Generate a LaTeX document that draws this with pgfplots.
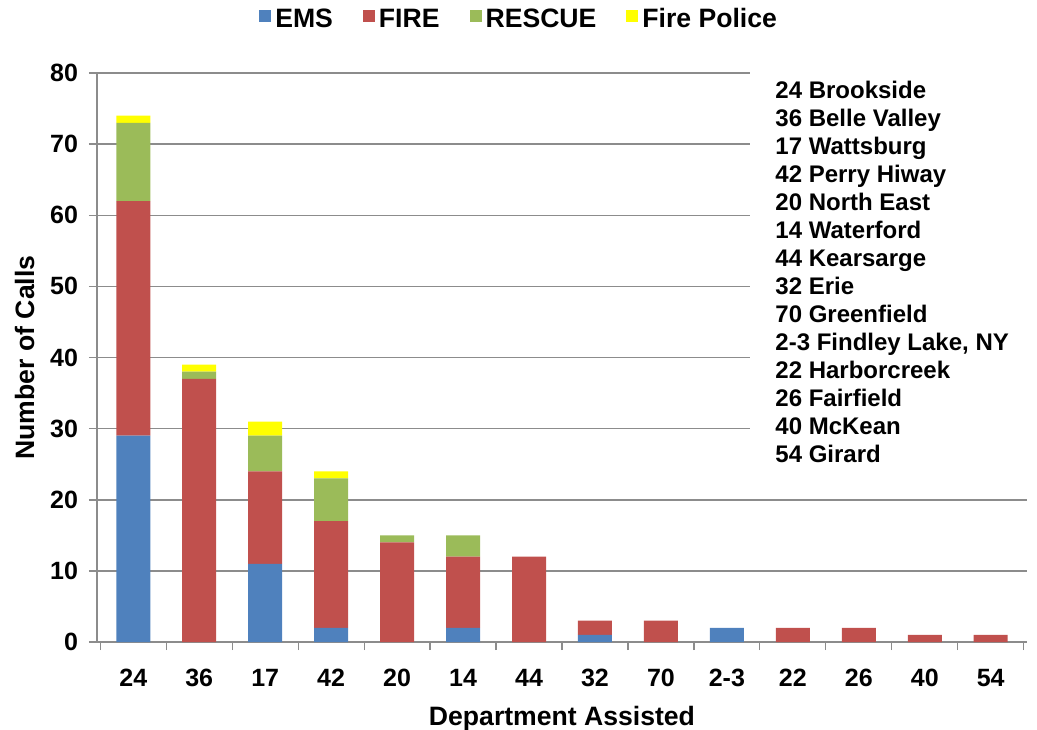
\documentclass[border=0pt]{standalone}
\usepackage{pgfplots}
\pgfplotsset{compat=1.18}
\usepackage{fontspec}
\setmainfont{Liberation Sans}

\definecolor{ems}{HTML}{4F81BD}
\definecolor{fire}{HTML}{C0504D}
\definecolor{rescue}{HTML}{9BBB59}
\definecolor{firepol}{HTML}{FFFF00}
\definecolor{gridgray}{HTML}{8C8C8C}

% columns: position, EMS, FIRE, RESCUE, Fire Police
\pgfplotstableread{
x ems fire rescue fp
0 29 33 11 1
1 0 37 1 1
2 11 13 5 2
3 2 15 6 1
4 0 14 1 0
5 2 10 3 0
6 0 12 0 0
7 1 2 0 0
8 0 3 0 0
9 2 0 0 0
10 0 2 0 0
11 0 2 0 0
12 0 1 0 0
13 0 1 0 0
}\calls

\begin{document}
\begin{tikzpicture}[font=\fontsize{12.5}{14}\selectfont\bfseries]
\begin{axis}[
  name=ax,
  scale only axis,
  width=465pt, height=284.5pt,
  ybar stacked, bar width=17pt,
  xmin=-0.55, xmax=13.55,
  ymin=0, ymax=80,
  ytick={0,10,...,80},
  xtick={0,...,13},
  xticklabels={24,36,17,42,20,14,44,32,70,2-3,22,26,40,54},
  minor xtick={-0.5,0.5,...,13.5},
  axis x line*=bottom, axis y line*=left,
  axis line style={gridgray, line width=0.75pt},
  tick align=outside,
  major tick length=4pt, minor tick length=4pt,
  x tick style={draw=none},
  minor x tick style={draw=gridgray, line width=0.6pt},
  y tick style={gridgray, line width=0.75pt},
  ymajorgrids,
  grid style={gridgray, line width=0.75pt},
  /pgf/number format/assume math mode=true,
  xticklabel style={yshift=-6pt},
  yticklabel style={xshift=-2pt},
  xlabel={Department Assisted},
  ylabel={Number of Calls},
  label style={font=\fontsize{13.3}{15}\selectfont\bfseries},
  xlabel style={yshift=-3pt},
  ylabel style={yshift=1pt},
  legend columns=-1,
  legend style={draw=none, at={(0.455,1.0)}, anchor=south, yshift=17pt,
    font=\fontsize{13.3}{15}\selectfont\bfseries,
    /tikz/every even column/.append style={column sep=13pt}},
  legend image code/.code={\fill[#1] (0pt,-1.5pt) rectangle (6pt,4.5pt);},
  clip=false,
]
\addplot[fill=ems, draw=none] table[x=x, y=ems] {\calls};
\addplot[fill=fire, draw=none] table[x=x, y=fire] {\calls};
\addplot[fill=rescue, draw=none] table[x=x, y=rescue] {\calls};
\addplot[fill=firepol, draw=none] table[x=x, y=fp] {\calls};
\legend{EMS, FIRE, RESCUE, Fire Police}
\coordinate (boxa) at (axis cs:9.35,26.5);
\coordinate (boxb) at (axis cs:13.7,80.6);
\coordinate (txt) at (axis cs:9.73,78.9);
\end{axis}
\fill[white] (boxa) rectangle (boxb);
\node[anchor=north west, align=left, inner sep=0pt,
      font=\fontsize{12}{14}\selectfont\bfseries] at (txt)
  {24 Brookside\\36 Belle Valley\\17 Wattsburg\\42 Perry Hiway\\20 North East\\
   14 Waterford\\44 Kearsarge\\32 Erie\\70 Greenfield\\2-3 Findley Lake, NY\\
   22 Harborcreek\\26 Fairfield\\40 McKean\\54 Girard};
\pgfresetboundingbox
\path[use as bounding box] ([shift={(-48.5pt,-43.5pt)}]ax.south west) rectangle ([shift={(470pt,321pt)}]ax.south west);
\end{tikzpicture}
\end{document}
